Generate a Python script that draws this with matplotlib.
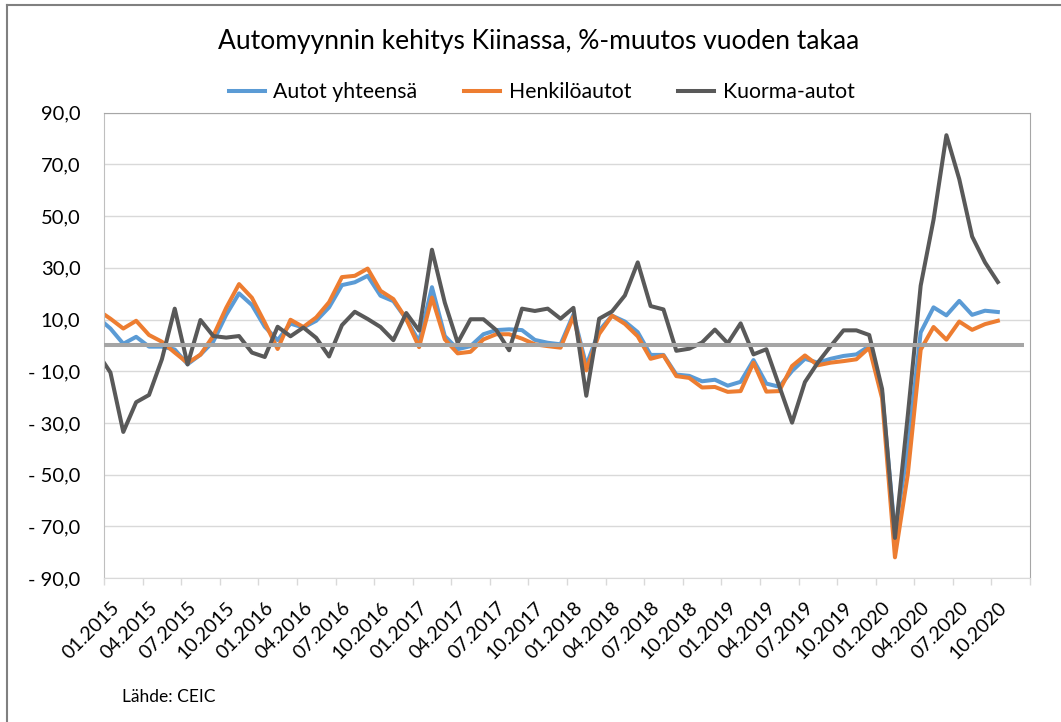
import numpy as np
import pandas as pd
import matplotlib
matplotlib.use('Agg')
import matplotlib.pyplot as plt
from matplotlib.lines import Line2D
from matplotlib.ticker import FixedLocator, FuncFormatter

plt.rcParams['font.family'] = ['Lato', 'DejaVu Sans']

# --- Kuukausidata: 12.2014 ... 10.2020 (ensimmäinen kuukausi jää akselin ulkopuolelle) ---
months = pd.period_range('2014-12', '2020-10', freq='M')

autot_yhteensa = [
    10.8, 6.5, 0.6, 3.3, -0.5, -0.5, -1.6, -7.3, -3.6, 1.5, 11.8, 20.1, 15.6,
    7.2, 2.0, 8.4, 6.9, 9.5, 14.7, 23.3, 24.4, 26.9, 19.2, 17.1, 10.2,
    1.5, 22.5, 3.6, -1.5, -0.3, 4.3, 5.9, 6.2, 5.9, 2.1, 1.0, 0.4,
    12.0, -7.8, 5.7, 11.5, 9.2, 5.1, -3.7, -3.7, -11.3, -11.8, -13.9, -13.3,
    -15.6, -14.1, -5.7, -14.8, -16.0, -9.9, -5.2, -6.7, -5.2, -4.1, -3.5, -0.3,
    -18.3, -72.5, -40.0, 5.0, 14.7, 11.6, 17.2, 11.8, 13.4, 12.9,
]
henkiloautot = [
    13.7, 10.3, 6.5, 9.5, 4.0, 1.4, -2.8, -6.8, -3.6, 3.7, 14.5, 23.7, 18.4,
    8.8, -1.4, 9.9, 7.1, 10.8, 16.7, 26.4, 26.9, 29.7, 21.1, 17.9, 10.2,
    -0.7, 18.5, 2.3, -3.1, -2.5, 2.3, 4.3, 4.3, 2.6, 0.4, -0.3, -0.9,
    11.2, -9.7, 4.4, 11.5, 8.3, 3.5, -5.2, -3.9, -11.9, -12.6, -16.3, -16.1,
    -18.0, -17.7, -6.7, -17.9, -17.7, -8.0, -3.9, -7.7, -6.7, -6.1, -5.4, -0.9,
    -20.5, -82.0, -49.8, -1.7, 7.1, 2.2, 9.2, 6.0, 8.2, 9.5,
]
kuorma_autot = [
    -3.0, -10.5, -33.5, -22.0, -19.2, -5.4, 14.2, -7.4, 9.8, 3.6, 3.0, 3.6, -2.8,
    -4.5, 7.2, 3.5, 6.9, 2.9, -4.3, 7.8, 13.0, 10.2, 7.1, 2.0, 12.5,
    5.7, 37.0, 16.5, 1.0, 10.1, 10.1, 5.9, -1.9, 14.2, 13.3, 14.2, 10.3,
    14.5, -19.5, 10.3, 13.1, 19.3, 32.1, 15.2, 13.9, -2.1, -1.3, 1.1, 6.1,
    0.8, 8.5, -3.5, -1.5, -15.7, -29.9, -14.2, -6.7, -0.3, 5.8, 5.8, 4.0,
    -16.9, -74.5, -27.0, 23.1, 48.6, 81.3, 64.3, 42.1, 32.1, 24.5,
]

y_ticks = np.arange(-90, 91, 20)

# akselilla on kategoriat 01.2015 ... 12.2020
n_categories = 72
x = np.arange(-1, len(months) - 1)
label_pos = np.arange(0, n_categories, 3)
labels = [months[i + 1].strftime('%m.%Y') for i in label_pos if i + 1 < len(months)]

fig = plt.figure(figsize=(10.61, 7.22), dpi=100)
ax = fig.add_axes([104 / 1061, 1 - 578 / 722, 926 / 1061, (578 - 112.7) / 722])

ax.plot(x, autot_yhteensa, color='#5b9bd5', lw=2.9, label='Autot yhteensä', solid_joinstyle='round')
ax.plot(x, henkiloautot, color='#ed7d31', lw=2.9, label='Henkilöautot', solid_joinstyle='round')
ax.plot(x, kuorma_autot, color='#595959', lw=2.9, label='Kuorma-autot', solid_joinstyle='round')
ax.hlines(0, -1, n_categories - 1, color='#a5a5a5', lw=2.9, zorder=5)

ax.set_xlim(-0.5, n_categories - 0.5)
ax.set_ylim(-90, 90)

ax.xaxis.set_major_locator(FixedLocator(label_pos[:len(labels)]))
ax.set_xticklabels(labels)
ax.xaxis.set_minor_locator(FixedLocator(np.arange(-0.5, n_categories, 3)))
ax.tick_params(axis='x', which='major', length=0, pad=15, labelsize=14)
ax.tick_params(axis='x', which='minor', length=5, width=1, color='#d9d9d9', direction='out')
for lab in ax.get_xticklabels():
    lab.set_rotation(45)
    lab.set_ha('right')
    lab.set_va('top')
    lab.set_rotation_mode('anchor')

ax.set_yticks(y_ticks)
ax.yaxis.set_major_formatter(FuncFormatter(
    lambda v, p: ('- ' if v < 0 else '') + f'{abs(v):.1f}'.replace('.', ',')))
ax.tick_params(axis='y', length=0, pad=17, labelsize=14.5)

ax.grid(axis='y', color='#d9d9d9', lw=1)
ax.set_axisbelow(True)
ax.spines['left'].set_color('#bfbfbf')
ax.spines['bottom'].set_color('#d9d9d9')
ax.spines['top'].set_color('#a6a6a6')
ax.spines['right'].set_color('#a6a6a6')

fig.text(0.508, 1 - 42 / 722, 'Automyynnin kehitys Kiinassa, %-muutos vuoden takaa',
         ha='center', va='center', fontsize=19)
fig.legend(loc='center', bbox_to_anchor=(0.5104, 1 - 92 / 722), ncol=3, frameon=False,
           fontsize=15.3, handlelength=1.7, columnspacing=2.2, handletextpad=0.4)
fig.text(122 / 1061, 1 - 697 / 722, 'Lähde: CEIC', ha='left', va='center', fontsize=12.5)

# kaavion reunat (vain ylä- ja vasen reuna näkyvät)
fig.add_artist(Line2D([7 / 1061, 1], [1 - 5 / 722, 1 - 5 / 722], color='#808080', lw=1.5))
fig.add_artist(Line2D([7 / 1061, 7 / 1061], [0, 1 - 5 / 722], color='#808080', lw=1.5))

fig.savefig('out.png', dpi=100)
